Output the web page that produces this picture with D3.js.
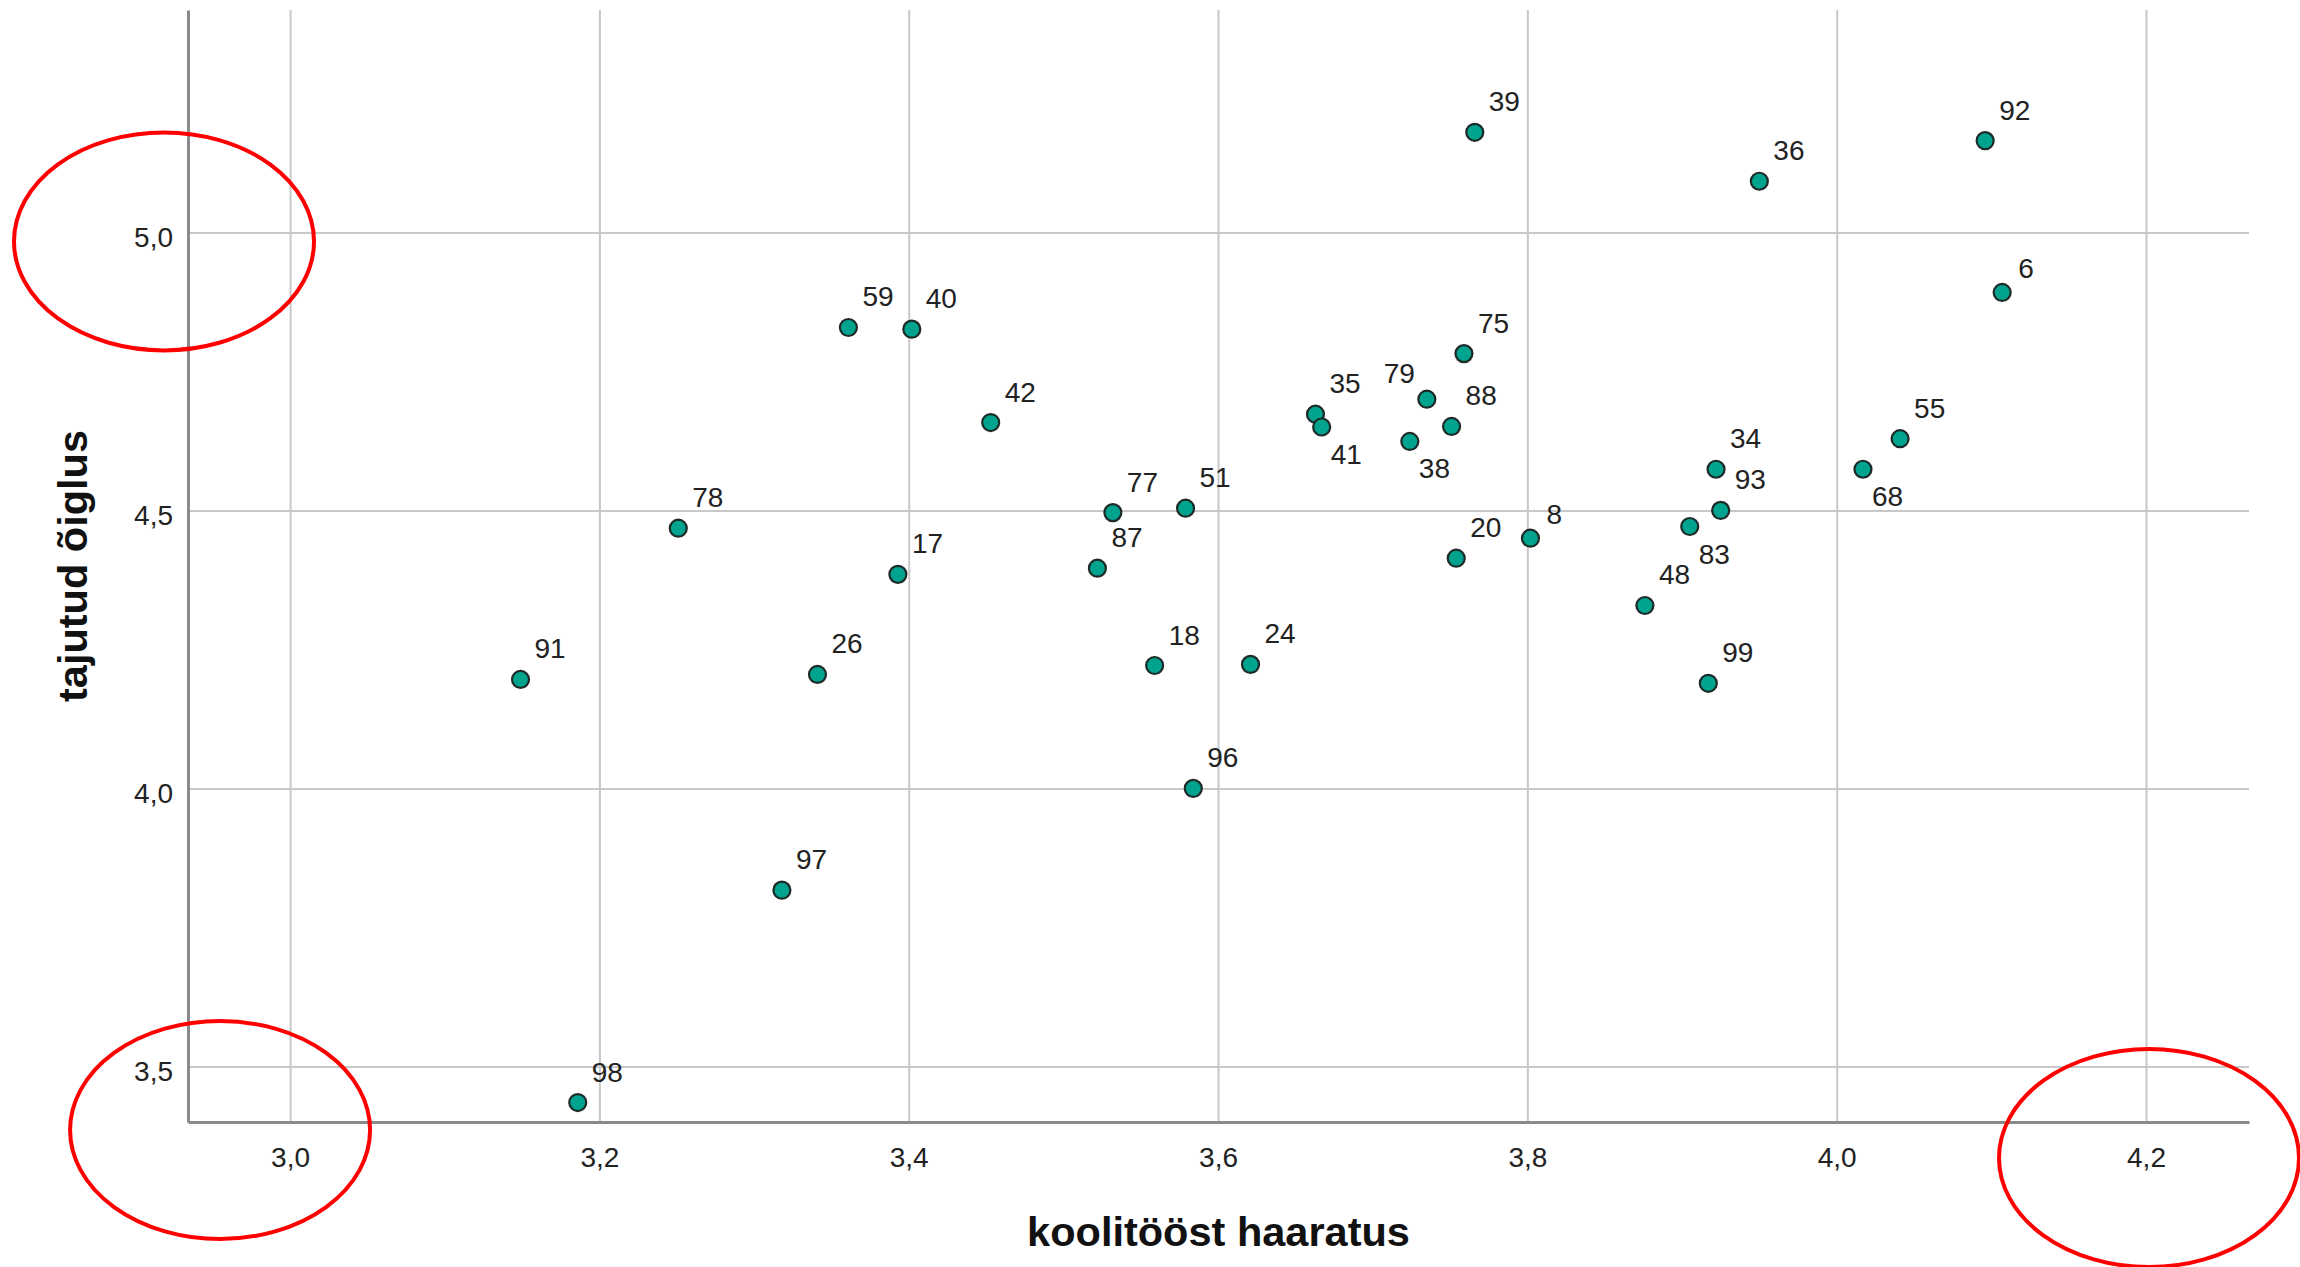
<!DOCTYPE html>
<html>
<head>
<meta charset="utf-8">
<script src="https://cdn.jsdelivr.net/npm/d3@7/dist/d3.min.js"></script>
<style>
  html, body { margin: 0; padding: 0; background: #fff; }
  svg { display: block; }
  text { font-family: "Liberation Sans", Arial, sans-serif; }
</style>
</head>
<body>
<script>
// ---- data ----
const ids = ["39","92","36","6","59","40","75","42","35","41","79","88","38","55","68","34","93","83","8","20","48","99","77","51","87","78","17","91","26","18","24","96","97","98"];
const koolitoostHaaratus = [3.766,4.096,3.950,4.107,3.361,3.402,3.759,3.453,3.663,3.667,3.735,3.751,3.724,4.041,4.017,3.922,3.925,3.905,3.802,3.754,3.876,3.917,3.532,3.579,3.522,3.251,3.393,3.149,3.341,3.559,3.621,3.584,3.318,3.186];
const tajutudOiglus     = [5.180,5.165,5.092,4.892,4.829,4.826,4.782,4.658,4.673,4.650,4.700,4.651,4.624,4.629,4.574,4.574,4.500,4.471,4.450,4.414,4.329,4.189,4.496,4.504,4.396,4.468,4.385,4.196,4.205,4.221,4.223,4.000,3.817,3.435];
const xTicks = [3.0,3.2,3.4,3.6,3.8,4.0,4.2];
const yTicks = [3.5,4.0,4.5,5.0];
const xTitle = "koolitööst haaratus";
const yTitle = "tajutud õiglus";
// label placement (styling)
const labelsBelow = ["41","38","68","83"];
const labelsLeft = ["79"];
const labelsNear = ["6","8"];

const W = 2300, H = 1267;
const pL = 188, pR = 2249, pT = 10, pB = 1122;

const svg = d3.select("body").append("svg").attr("width", W).attr("height", H);

const x = d3.scaleLinear().domain([2.934, 4.2666]).range([pL, pR]);
const y = d3.scaleLinear().domain([3.4, 5.4]).range([pB, pT]);

const loc = d3.formatLocale({decimal: ",", thousands: " ", grouping: [3], currency: ["", "€"]});
const fmt = loc.format(".1f");

// grid
const gx = svg.append("g").attr("transform", `translate(0,${pB})`)
  .call(d3.axisBottom(x).tickValues(xTicks).tickSize(-(pB - pT)).tickFormat(""));
gx.select(".domain").remove();
gx.selectAll("line").attr("stroke", "#c8c8c8").attr("stroke-width", 2);

const gy = svg.append("g").attr("transform", `translate(${pL},0)`)
  .call(d3.axisLeft(y).tickValues(yTicks).tickSize(-(pR - pL)).tickFormat(""));
gy.select(".domain").remove();
gy.selectAll("line").attr("stroke", "#c8c8c8").attr("stroke-width", 2);

// axes
const ax = svg.append("g").attr("transform", `translate(0,${pB})`)
  .call(d3.axisBottom(x).tickValues(xTicks).tickSize(0).tickPadding(25).tickFormat(fmt));
ax.select(".domain").attr("stroke", "#8a8a8a").attr("stroke-width", 3);
ax.selectAll("text").attr("font-size", 28).attr("fill", "#222").attr("font-family", "'Liberation Sans', Arial, sans-serif");

const ay = svg.append("g").attr("transform", `translate(${pL},0)`)
  .call(d3.axisLeft(y).tickValues(yTicks).tickSize(0).tickPadding(15).tickFormat(fmt));
ay.select(".domain").attr("stroke", "#8a8a8a").attr("stroke-width", 3);
ay.selectAll("text").attr("font-size", 28).attr("fill", "#222").attr("dy", "0.5em").attr("font-family", "'Liberation Sans', Arial, sans-serif");

// axis titles
svg.append("text").attr("x", (pL + pR) / 2).attr("y", 1246)
  .attr("text-anchor", "middle").attr("font-size", 41.5).attr("font-weight", "bold").attr("fill", "#111")
  .text(xTitle);
svg.append("text").attr("transform", `translate(87,${(pT + pB) / 2}) rotate(-90)`)
  .attr("text-anchor", "middle").attr("font-size", 41.5).attr("font-weight", "bold").attr("fill", "#111")
  .text(yTitle);

// points
const data = ids.map((id, i) => ({id, xv: koolitoostHaaratus[i], yv: tajutudOiglus[i]}));

svg.append("g").selectAll("circle").data(data).join("circle")
  .attr("cx", d => x(d.xv)).attr("cy", d => y(d.yv)).attr("r", 8.5)
  .attr("fill", "#00a38d").attr("stroke", "#1d2a28").attr("stroke-width", 2.2);

function lx(d) {
  if (labelsLeft.includes(d.id)) return x(d.xv) - 12;
  if (labelsBelow.includes(d.id)) return x(d.xv) + 9;
  if (labelsNear.includes(d.id)) return x(d.xv) + 16;
  return x(d.xv) + 14;
}
function ly(d) {
  if (labelsBelow.includes(d.id)) return y(d.yv) + 37;
  if (labelsLeft.includes(d.id)) return y(d.yv) - 16;
  if (labelsNear.includes(d.id)) return y(d.yv) - 14;
  return y(d.yv) - 21;
}

svg.append("g").selectAll("text").data(data).join("text")
  .attr("font-size", 28).attr("fill", "#222")
  .attr("x", lx).attr("y", ly)
  .attr("text-anchor", d => labelsLeft.includes(d.id) ? "end" : "start")
  .text(d => d.id);

// red annotation ellipses (around the 5,0 / 3,0+3,5 / 4,2 tick labels)
const ell = svg.append("g").attr("fill", "none").attr("stroke", "#ff0000").attr("stroke-width", 4);
ell.append("ellipse").attr("cx", 164).attr("cy", y(5.0) + 9).attr("rx", 150).attr("ry", 109);
ell.append("ellipse").attr("cx", x(3.0) - 70).attr("cy", 1130).attr("rx", 150).attr("ry", 109);
ell.append("ellipse").attr("cx", x(4.2) + 3).attr("cy", 1158).attr("rx", 150).attr("ry", 109);
</script>
</body>
</html>
